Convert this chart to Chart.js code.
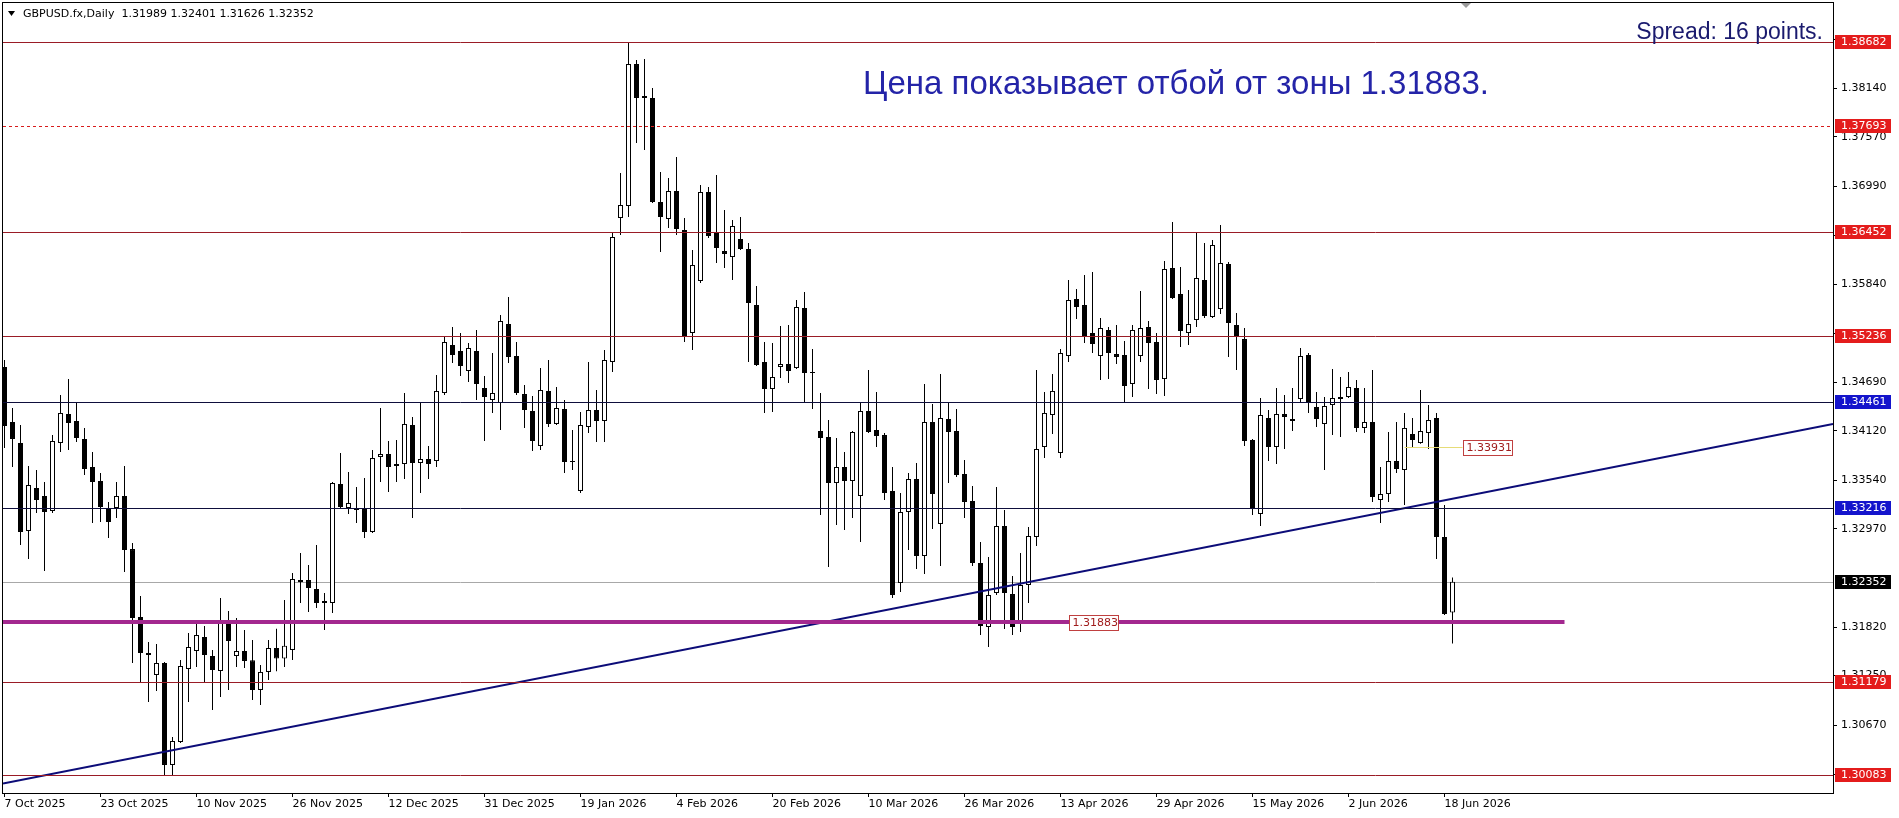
<!DOCTYPE html>
<html>
<head>
<meta charset="utf-8">
<title>GBPUSD.fx, Daily</title>
<script src="https://cdn.jsdelivr.net/npm/chart.js@4.4.1/dist/chart.umd.min.js"></script>
<style>
  html, body { margin: 0; padding: 0; background: #fff; }
  #wrap { width: 1899px; height: 818px; }
</style>
</head>
<body>
<div id="wrap"><canvas id="myChart" width="1899" height="818"></canvas></div>
<script>
// daily bars, oldest first (bar 0 = 7 Oct 2025)
var opens = [1.34870,1.34225,1.33979,1.32946,1.33451,1.33357,1.33181,1.33979,1.34319,1.34237,
  1.34026,1.33697,1.33533,1.33216,1.33216,1.33357,1.32734,1.31938,1.31515,1.31257,
  1.31398,1.30202,1.30471,1.31328,1.31539,1.31703,1.31480,1.31304,1.31891,1.31480,
  1.31539,1.31430,1.31082,1.31293,1.31574,1.31450,1.31551,1.32348,1.32371,1.32266,
  1.32125,1.32102,1.33498,1.33216,1.33216,1.33204,1.32935,1.33814,1.33849,1.33709,
  1.33732,1.34190,1.33744,1.33791,1.33767,1.34565,1.35128,1.35058,1.34823,1.35058,
  1.34624,1.34483,1.34448,1.35374,1.34999,1.34553,1.34354,1.33943,1.34589,1.34202,
  1.34377,1.33767,1.33416,1.34166,1.34366,1.34237,1.34929,1.36618,1.36759,1.38424,
  1.38026,1.38026,1.36806,1.36606,1.36935,1.36477,1.35269,1.35879,1.36923,1.36454,
  1.36231,1.36160,1.36372,1.36254,1.35597,1.34929,1.34612,1.34870,1.34905,1.34858,
  1.35562,1.34811,1.34119,1.34049,1.33509,1.33697,1.33533,1.33357,1.34354,1.34131,
  1.34072,1.33416,1.32336,1.33169,1.33556,1.32653,1.34225,1.33029,1.34260,1.34119,
  1.33615,1.33298,1.32571,1.31820,1.32219,1.33005,1.32207,1.31879,1.32313,1.32876,
  1.33932,1.34307,1.33861,1.34999,1.35668,1.35597,1.35269,1.34999,1.35304,1.35023,
  1.35011,1.34671,1.34999,1.35339,1.35163,1.34729,1.36031,1.35726,1.35269,1.35421,
  1.35891,1.35457,1.35550,1.36078,1.35363,1.35198,1.34014,1.33146,1.34272,1.33932,
  1.34319,1.34260,1.34495,1.35011,1.34401,1.34202,1.34424,1.34495,1.34518,1.34624,
  1.34155,1.34225,1.33310,1.33380,1.33767,1.33662,1.34084,1.33979,1.34096,1.34272,
  1.32876,1.31989];
var highs = [1.34952,1.34389,1.34190,1.33709,1.33662,1.33521,1.34072,1.34542,1.34729,1.34448,
  1.34155,1.33873,1.33627,1.33287,1.33521,1.33709,1.32806,1.32184,1.31644,1.31621,
  1.31410,1.30530,1.31433,1.31750,1.31902,1.31832,1.31551,1.32160,1.32008,1.31926,
  1.31785,1.31668,1.31375,1.31668,1.31800,1.32137,1.32454,1.32688,1.32547,1.32782,
  1.32219,1.33521,1.33861,1.33638,1.33462,1.33568,1.33896,1.34389,1.34002,1.34014,
  1.34565,1.34284,1.34460,1.33943,1.34776,1.35222,1.35339,1.35269,1.35152,1.35304,
  1.34765,1.35034,1.35480,1.35691,1.35163,1.34659,1.34530,1.34858,1.34952,1.34636,
  1.34483,1.34131,1.34342,1.34929,1.34600,1.35070,1.36454,1.37146,1.38682,1.38471,
  1.38483,1.38143,1.37157,1.37087,1.37333,1.36618,1.36243,1.37005,1.36982,1.37122,
  1.36712,1.36594,1.36630,1.36325,1.35820,1.35163,1.35152,1.35351,1.35363,1.35656,
  1.35750,1.35081,1.34565,1.34248,1.34037,1.33873,1.34119,1.34448,1.34835,1.34577,
  1.34096,1.33697,1.33392,1.33627,1.33744,1.34671,1.34436,1.34788,1.34448,1.34377,
  1.33779,1.33474,1.32817,1.32641,1.33462,1.33193,1.32418,1.32688,1.32993,1.34835,
  1.34577,1.34788,1.35081,1.35891,1.35785,1.35949,1.35984,1.35445,1.35339,1.35363,
  1.35175,1.35363,1.35761,1.35410,1.35269,1.36113,1.36571,1.36043,1.35773,1.36442,
  1.36325,1.36360,1.36536,1.36102,1.35503,1.35327,1.34026,1.34506,1.34366,1.34624,
  1.34542,1.34624,1.35093,1.35034,1.34577,1.34518,1.34847,1.34753,1.34811,1.34718,
  1.34624,1.34835,1.33697,1.34108,1.34225,1.34331,1.34272,1.34600,1.34424,1.34331,
  1.33251,1.32401];
var lows = [1.33920,1.33697,1.32782,1.32618,1.33158,1.32477,1.33158,1.33873,1.33896,1.33990,
  1.33603,1.33040,1.33052,1.32864,1.33099,1.32465,1.31398,1.31164,1.30941,1.31069,
  1.30084,1.30072,1.30460,1.30941,1.31351,1.31164,1.30847,1.30999,1.31082,1.31351,
  1.31340,1.30964,1.30905,1.31199,1.31300,1.31350,1.31433,1.32102,1.31996,1.32043,
  1.31785,1.31985,1.33216,1.33146,1.33040,1.32864,1.32923,1.33521,1.33404,1.33521,
  1.33556,1.33099,1.33392,1.33556,1.33697,1.34542,1.34917,1.34765,1.34694,1.34483,
  1.34002,1.34331,1.34131,1.34917,1.34542,1.34155,1.33885,1.33896,1.34166,1.34190,
  1.33627,1.33662,1.33392,1.34096,1.33990,1.33990,1.34811,1.36418,1.36630,1.37498,
  1.37416,1.36794,1.36219,1.36501,1.36418,1.35163,1.35070,1.35855,1.36383,1.36090,
  1.36031,1.35891,1.36243,1.34929,1.34882,1.34331,1.34342,1.34741,1.34682,1.34847,
  1.34448,1.34377,1.33134,1.32524,1.33017,1.32958,1.33099,1.32817,1.34096,1.33932,
  1.33310,1.32160,1.32231,1.32723,1.32500,1.32442,1.32970,1.32536,1.33509,1.33580,
  1.33099,1.32536,1.31726,1.31586,1.32196,1.31797,1.31726,1.31762,1.32102,1.32770,
  1.33802,1.34084,1.33802,1.34929,1.35433,1.35152,1.35034,1.34718,1.34729,1.34905,
  1.34448,1.34518,1.34929,1.34612,1.34553,1.34530,1.35668,1.35105,1.35128,1.35339,
  1.35445,1.35445,1.35492,1.34988,1.34835,1.33943,1.33134,1.33005,1.33767,1.33732,
  1.33908,1.34119,1.34448,1.34331,1.34166,1.33662,1.34072,1.34049,1.34506,1.34108,
  1.34096,1.33287,1.33040,1.33287,1.33627,1.33251,1.33932,1.33970,1.33908,1.32618,
  1.31961,1.31626];
var closes = [1.34178,1.34026,1.32935,1.33486,1.33310,1.33169,1.34002,1.34331,1.34213,1.34037,
  1.33674,1.33521,1.33228,1.33052,1.33357,1.32723,1.31926,1.31515,1.31492,1.31398,
  1.30202,1.30483,1.31363,1.31586,1.31726,1.31492,1.31316,1.31879,1.31656,1.31539,
  1.31422,1.31082,1.31293,1.31574,1.31450,1.31600,1.32383,1.32371,1.32277,1.32102,
  1.32102,1.33509,1.33228,1.33275,1.33193,1.32935,1.33802,1.33849,1.33697,1.33732,
  1.34202,1.33744,1.33791,1.33732,1.34589,1.35163,1.35011,1.34882,1.35093,1.34671,
  1.34518,1.34565,1.35410,1.34988,1.34565,1.34366,1.34002,1.34600,1.34202,1.34389,
  1.33756,1.33756,1.34190,1.34366,1.34237,1.34952,1.36395,1.36770,1.38424,1.38026,
  1.38049,1.36806,1.36630,1.36935,1.36489,1.35234,1.36066,1.36923,1.36407,1.36266,
  1.36196,1.36524,1.36254,1.35621,1.34894,1.34612,1.34753,1.34905,1.34823,1.35574,
  1.34800,1.34800,1.34037,1.33509,1.33697,1.33533,1.34108,1.34354,1.34108,1.34061,
  1.33392,1.32196,1.33169,1.33556,1.32653,1.34225,1.33380,1.34272,1.34108,1.33603,
  1.33287,1.32571,1.31832,1.32196,1.33005,1.32219,1.31820,1.32313,1.32888,1.33908,
  1.34331,1.34589,1.35034,1.35656,1.35574,1.35234,1.35140,1.35327,1.35034,1.34988,
  1.34647,1.35304,1.35327,1.35152,1.34718,1.36020,1.35679,1.35292,1.35374,1.35914,
  1.35468,1.36301,1.36090,1.35386,1.35222,1.34002,1.33216,1.34307,1.33932,1.34319,
  1.34284,1.34237,1.34999,1.34448,1.34260,1.34413,1.34506,1.34518,1.34636,1.34155,
  1.34225,1.33345,1.33380,1.33767,1.33674,1.34155,1.34014,1.34119,1.34248,1.32876,
  1.31973,1.32352];

// time axis labels, one every 12 bars
var tickBars = [0, 12, 24, 36, 48, 60, 72, 84, 96, 108, 120, 132, 144, 156, 168, 180];
var tickDates = ["7 Oct 2025", "23 Oct 2025", "10 Nov 2025", "26 Nov 2025", "12 Dec 2025",
  "31 Dec 2025", "19 Jan 2026", "4 Feb 2026", "20 Feb 2026", "10 Mar 2026", "26 Mar 2026",
  "13 Apr 2026", "29 Apr 2026", "15 May 2026", "2 Jun 2026", "18 Jun 2026"];
// price axis labels
var priceTicks = [1.38710, 1.38140, 1.37570, 1.36990, 1.36410, 1.35840, 1.35260, 1.34690,
  1.34120, 1.33540, 1.32970, 1.31820, 1.31250, 1.30670, 1.30090];

// drawn objects
var redLevels = [1.38682, 1.36452, 1.35236, 1.31179, 1.30083];
var dotLevel = 1.37693;
var blueLevels = [1.34461, 1.33216];
var bidPrice = 1.32352;
var zoneLevel = 1.31883;
var zoneEndBar = 195;
var markLevel = 1.33931;
var markBars = [175, 182.25];
var trendPrices = [1.29984, 1.34201];   // at left and right edge of the chart

var xMin = -0.1875, xMax = 228.5625;
var yMin = 1.29873, yMax = 1.39140;

var wicks = [], bodies = [], bodyColors = [];
for (var i = 0; i < opens.length; i++) {
    wicks.push({ x: i, y: [lows[i], highs[i]] });
    bodies.push({ x: i, y: [opens[i], closes[i]] });
    bodyColors.push(closes[i] >= opens[i] ? "#ffffff" : "#000000");
}

var datasets = [{
    type: "bar", data: wicks, backgroundColor: "#000", borderWidth: 0,
    barThickness: 1, grouped: false, minBarLength: 1, inflateAmount: 0, order: 4
}, {
    type: "bar", data: bodies, backgroundColor: bodyColors, borderColor: "#000",
    borderWidth: 1, borderSkipped: false, barThickness: 5, grouped: false,
    minBarLength: 1, inflateAmount: 0, order: 3
}, {
    type: "line",
    data: [{ x: xMin, y: trendPrices[0] }, { x: xMax, y: trendPrices[1] }],
    borderColor: "#0c0c78", borderWidth: 2, pointRadius: 0, order: 0
}];

// horizontal line snapped to whole pixels
function level(chart, value, fromBar, toBar, color, width, dash) {
    var ctx = chart.ctx;
    var a = chart.chartArea;
    var py = Math.round(chart.scales.y.getPixelForValue(value)) + (width % 2 ? 0.5 : 0);
    var x0 = Math.max(a.left, chart.scales.x.getPixelForValue(fromBar));
    var x1 = Math.min(a.right, chart.scales.x.getPixelForValue(toBar));
    ctx.save();
    ctx.strokeStyle = color;
    ctx.lineWidth = width;
    ctx.setLineDash(dash || []);
    ctx.beginPath();
    ctx.moveTo(x0, py);
    ctx.lineTo(x1, py);
    ctx.stroke();
    ctx.restore();
}

function tag(ctx, py, text, bg, fg, left) {
    py = Math.round(py);
    ctx.fillStyle = bg;
    ctx.fillRect(left, py - 7, 56, 14);
    ctx.fillStyle = fg;
    ctx.fillText(text, left + 6, py + 0.5);
}

var overlay = {
    id: "overlay",
    beforeDatasetsDraw: function (chart) {
        level(chart, bidPrice, xMin, xMax, "#a8a8a8", 1);
    },
    afterDatasetsDraw: function (chart) {
        for (var r = 0; r < redLevels.length; r++) {
            level(chart, redLevels[r], xMin, xMax, "#9a1c26", 1);
        }
        level(chart, dotLevel, xMin, xMax, "#d81c1c", 1, [3, 3]);
        for (var b = 0; b < blueLevels.length; b++) {
            level(chart, blueLevels[b], xMin, xMax, "#0e0e3c", 1);
        }
        level(chart, zoneLevel, xMin, zoneEndBar, "#a3288f", 4);
        level(chart, markLevel, markBars[0], markBars[1], "#e6dc78", 1);
    },
    afterDraw: function (chart) {
        var ctx = chart.ctx;
        var a = chart.chartArea;
        var xs = chart.scales.x;
        var ys = chart.scales.y;
        ctx.save();

        // frame round the price window
        ctx.strokeStyle = "#000";
        ctx.lineWidth = 1;
        ctx.strokeRect(a.left - 0.5, a.top - 0.5, a.right - a.left + 1, a.bottom - a.top + 1);

        // price tags on the right scale
        ctx.font = '11px "DejaVu Sans"';
        ctx.textAlign = "left";
        ctx.textBaseline = "middle";
        var tags = redLevels.concat([dotLevel]);
        for (var k = 0; k < tags.length; k++) {
            tag(ctx, ys.getPixelForValue(tags[k]), tags[k].toFixed(5), "#e41c1c", "#fff", a.right + 2);
        }
        for (var k2 = 0; k2 < blueLevels.length; k2++) {
            tag(ctx, ys.getPixelForValue(blueLevels[k2]), blueLevels[k2].toFixed(5), "#1414cc", "#fff", a.right + 2);
        }
        tag(ctx, ys.getPixelForValue(bidPrice), bidPrice.toFixed(5), "#000", "#fff", a.right + 2);

        // boxed labels on the lines
        function box(bar, value) {
            var bx = Math.round(xs.getPixelForValue(bar)) + 0.5;
            var by = Math.round(ys.getPixelForValue(value)) - 7 + 0.5;
            ctx.fillStyle = "#fff";
            ctx.fillRect(bx, by, 49, 15);
            ctx.strokeStyle = "#c04040";
            ctx.strokeRect(bx, by, 49, 15);
            ctx.fillStyle = "#a01c1c";
            ctx.fillText(value.toFixed(5), bx + 3, by + 8);
        }
        box(133.1, zoneLevel);
        box(markBars[1], markLevel);

        // header line
        ctx.fillStyle = "#000";
        ctx.beginPath();
        ctx.moveTo(8, 11); ctx.lineTo(15, 11); ctx.lineTo(11.5, 16); ctx.closePath();
        ctx.fill();
        ctx.fillText("GBPUSD.fx,Daily  1.31989 1.32401 1.31626 1.32352", 23, 14);

        // chart shift marker
        ctx.fillStyle = "#9a9a9a";
        ctx.beginPath();
        ctx.moveTo(1461, 3); ctx.lineTo(1471, 3); ctx.lineTo(1466, 8); ctx.closePath();
        ctx.fill();

        ctx.textBaseline = "alphabetic";
        ctx.fillStyle = "#1a1a6e";
        ctx.font = '23px "Liberation Sans"';
        ctx.textAlign = "right";
        ctx.fillText("Spread: 16 points.", 1823, 39);

        ctx.fillStyle = "#2424a8";
        ctx.font = '33px "Liberation Sans"';
        ctx.textAlign = "left";
        ctx.fillText("Цена показывает отбой от зоны 1.31883.", 863, 94);
        ctx.restore();
    }
};

Chart.defaults.font.family = '"DejaVu Sans", sans-serif';
Chart.defaults.font.size = 11;
Chart.defaults.color = "#000";

var ctx = document.getElementById("myChart").getContext("2d");
var myChart = new Chart(ctx, {
    type: "bar",
    data: { datasets: datasets },
    options: {
        responsive: false,
        animation: false,
        events: [],
        layout: { padding: { left: 3, top: 3, right: 0, bottom: 0 } },
        plugins: { legend: { display: false }, tooltip: { enabled: false } },
        scales: {
            x: {
                type: "linear", min: xMin, max: xMax, offset: false,
                grid: { offset: false, drawOnChartArea: false, drawTicks: true, tickLength: 4, color: "#000" },
                border: { display: false },
                ticks: {
                    autoSkip: false, maxRotation: 0, minRotation: 0, align: "start", padding: 1,
                    callback: function (value) { return tickDates[tickBars.indexOf(value)]; }
                },
                afterBuildTicks: function (s) {
                    s.ticks = tickBars.map(function (v) { return { value: v }; });
                },
                afterFit: function (s) { s.height = 25; s.paddingLeft = 0; s.paddingRight = 0; }
            },
            y: {
                type: "linear", position: "right", min: yMin, max: yMax, beginAtZero: false,
                grid: { drawOnChartArea: false, drawTicks: true, tickLength: 4, color: "#000" },
                border: { display: false },
                ticks: {
                    padding: 4,
                    callback: function (value) { return value.toFixed(5); }
                },
                afterBuildTicks: function (s) {
                    s.ticks = priceTicks.map(function (v) { return { value: v }; });
                },
                afterFit: function (s) { s.width = 66; s.paddingTop = 0; s.paddingBottom = 0; }
            }
        }
    },
    plugins: [overlay]
});
</script>
</body>
</html>
